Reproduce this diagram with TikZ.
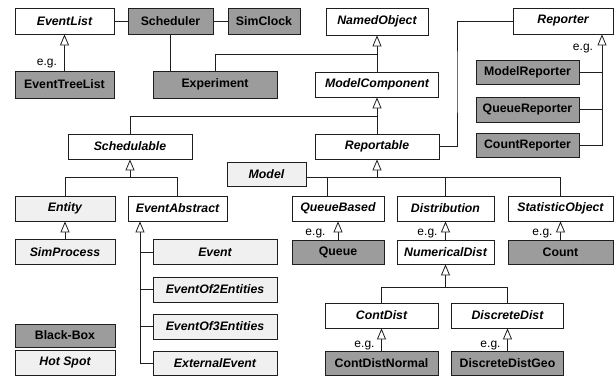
\documentclass[tikz,border=0pt]{standalone}
\usepackage{fontspec}
\setmainfont{Liberation Sans}
\usetikzlibrary{arrows.meta}
\definecolor{darkfill}{RGB}{156,156,156}
\definecolor{lightfill}{RGB}{240,240,240}
\definecolor{linecol}{RGB}{30,30,30}
\tikzset{
  box/.style={draw=linecol, line width=0.8pt, inner sep=0pt, fill=white,
    font=\fontsize{12.3}{14}\selectfont\bfseries},
  abs/.style={box, font=\fontsize{12.3}{14}\selectfont\bfseries\itshape},
  dark/.style={fill=darkfill},
  light/.style={fill=lightfill},
  sz/.style 2 args={minimum width=#1pt, minimum height=#2pt},
  conn/.style={draw=linecol, line width=0.8pt},
  inh/.style={conn, -{Triangle[open, width=9pt, length=11pt, fill=white]}},
  eg/.style={font=\fontsize{12}{14}\selectfont, inner sep=0pt}
}
\begin{document}
\begin{tikzpicture}[x=1pt,y=-1pt]
\useasboundingbox (0,0) rectangle (614,376);
% top row
\node[abs, sz={99}{26}] (eventlist) at (64.5,21) {EventList};
\node[box, dark, sz={85}{26}] (scheduler) at (170.5,21) {Scheduler};
\node[box, dark, sz={72}{26}] (simclock) at (264,21) {SimClock};
\node[abs, sz={102}{27}] (namedobject) at (377,21.5) {NamedObject};
\node[abs, sz={100}{26}] (reporter) at (563,21) {Reporter};
% second row
\node[box, dark, sz={99}{27}] (eventtreelist) at (64.5,84.5) {EventTreeList};
\node[box, dark, sz={124}{27}] (experiment) at (215,84.5) {Experiment};
\node[abs, sz={123}{25}] (modelcomponent) at (377,84.5) {ModelComponent};
\node[box, dark, sz={103}{24}] (modelreporter) at (527.5,72) {ModelReporter};
\node[box, dark, sz={103}{25}] (queuereporter) at (527.5,109.5) {QueueReporter};
\node[box, dark, sz={103}{24}] (countreporter) at (527.5,145.5) {CountReporter};
% third row
\node[abs, sz={124}{25}] (schedulable) at (130,146.5) {Schedulable};
\node[abs, sz={124}{25}] (reportable) at (377,146.5) {Reportable};
\node[abs, light, sz={79}{24}] (model) at (266.5,174) {Model};
% fourth row
\node[abs, light, sz={100}{25}] (entity) at (65,208.5) {Entity};
\node[abs, sz={99}{25}] (eventabstract) at (177.5,208.5) {EventAbstract};
\node[abs, sz={92}{25}] (queuebased) at (338,208.5) {QueueBased};
\node[abs, sz={97}{25}] (distribution) at (445.5,208.5) {Distribution};
\node[abs, sz={105}{25}] (statisticobject) at (560.5,208.5) {StatisticObject};
% fifth row
\node[abs, light, sz={100}{25}] (simprocess) at (65,252) {SimProcess};
\node[abs, light, sz={124}{25}] (event) at (215,252) {Event};
\node[box, dark, sz={92}{24}] (queue) at (338,252) {Queue};
\node[abs, sz={97}{24}] (numericaldist) at (445.5,252) {NumericalDist};
\node[box, dark, sz={105}{24}] (count) at (560.5,252) {Count};
% lower rows
\node[abs, light, sz={124}{25}] (eventof2) at (215,289.5) {EventOf2Entities};
\node[abs, light, sz={124}{25}] (eventof3) at (215,326.5) {EventOf3Entities};
\node[abs, light, sz={124}{24}] (externalevent) at (215,363) {ExternalEvent};
\node[abs, sz={113}{25}] (contdist) at (381.5,315.5) {ContDist};
\node[abs, sz={112}{25}] (discretedist) at (507.5,315.5) {DiscreteDist};
\node[box, dark, sz={113}{24}] (contdistnormal) at (381.5,363) {ContDistNormal};
\node[box, dark, sz={112}{24}] (discretedistgeo) at (507.5,363) {DiscreteDistGeo};
\node[box, dark, sz={100}{23}] (blackbox) at (65,335.5) {Black-Box};
\node[abs, light, sz={100}{25}] (hotspot) at (65,362.5) {Hot Spot};
% e.g. labels
\node[eg] (eg1) at (47,64) {e.g.};
\node[eg] (eg2) at (583,49) {e.g.};
\node[eg] (eg3) at (315.5,234) {e.g.};
\node[eg] (eg4) at (427.5,234) {e.g.};
\node[eg] (eg5) at (542.5,234) {e.g.};
\node[eg] (eg6) at (364.5,346) {e.g.};
\node[eg] (eg7) at (490.5,346) {e.g.};
% coordinates
\coordinate (j1) at (377,54);
\coordinate (j2) at (377,116);
\coordinate (r1) at (457,80);
\coordinate (rb) at (602,0);
\coordinate (s1) at (130,177);
\coordinate (e1) at (140,0);
\coordinate (m1) at (377,177);
\coordinate (q1) at (327,177);
\coordinate (n1) at (445.5,287);
% connectors: top
\draw[conn] (eventlist) -- (scheduler);
\draw[conn] (scheduler) -- (simclock);
\draw[inh] (eventtreelist.north) -- (eventlist.south);
\draw[conn] (scheduler.south) -- (scheduler.south |- experiment.north);
\draw[conn] (experiment.north) |- (j1);
\draw[inh] (modelcomponent.north) -- (namedobject.south);
\draw[conn] (schedulable.north) |- (j2);
\draw[inh] (reportable.north) -- (modelcomponent.south);
\draw[conn] (reportable.east) -| (r1) |- (reporter.west);
% reporter family
\draw[inh] (countreporter.east) -- (countreporter.east -| rb) -- (reporter.south -| rb);
\draw[conn] (modelreporter.east) -- (modelreporter.east -| rb);
\draw[conn] (queuereporter.east) -- (queuereporter.east -| rb);
% schedulable family
\draw[inh] (s1) -- (schedulable.south);
\draw[conn] (entity.north) |- (eventabstract.north |- s1) -- (eventabstract.north);
\draw[inh] (simprocess.north) -- (entity.south);
\draw[inh] (externalevent.west) -| (eventabstract.south -| e1);
\draw[conn] (event.west) -- (event.west -| e1);
\draw[conn] (eventof2.west) -- (eventof2.west -| e1);
\draw[conn] (eventof3.west) -- (eventof3.west -| e1);
% reportable family
\draw[inh] (m1) -- (reportable.south);
\draw[conn] (model.east |- m1) -- (m1 -| statisticobject.north) -- (statisticobject.north);
\draw[conn] (q1) -- (q1 |- queuebased.north);
\draw[conn] (distribution.north |- m1) -- (distribution.north);
\draw[inh] (queue.north) -- (queuebased.south -| queue.north);
\draw[inh] (numericaldist.north) -- (distribution.south);
\draw[inh] (count.north) -- (statisticobject.south);
% distributions
\draw[inh] (n1) -- (numericaldist.south);
\draw[conn] (contdist.north) |- (n1 -| discretedist.north) -- (discretedist.north);
\draw[inh] (contdistnormal.north) -- (contdist.south);
\draw[inh] (discretedistgeo.north) -- (discretedist.south);
\end{tikzpicture}
\end{document}
